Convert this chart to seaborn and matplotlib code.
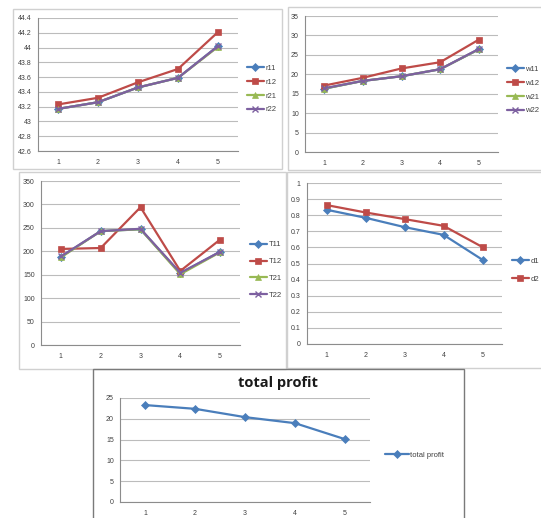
import matplotlib
matplotlib.use("Agg")
import matplotlib.pyplot as plt
from matplotlib.patches import Rectangle
from matplotlib.ticker import FuncFormatter, MultipleLocator, FixedLocator
import numpy as np
import pandas as pd
import seaborn as sns

# ---------------- data ----------------
periods = [1, 2, 3, 4, 5]

r11 = [43.17, 43.26, 43.46, 43.59, 44.02]
r12 = [43.23, 43.32, 43.53, 43.71, 44.21]
r21 = [43.17, 43.26, 43.46, 43.59, 44.01]
r22 = [43.17, 43.26, 43.46, 43.59, 44.02]

w11 = [16.3, 18.3, 19.5, 21.3, 26.4]
w12 = [17.1, 19.1, 21.5, 23.1, 28.9]
w21 = [16.3, 18.3, 19.5, 21.3, 26.4]
w22 = [16.4, 18.3, 19.5, 21.3, 26.5]

T11 = [188, 243, 247, 153, 199]
T12 = [205, 207, 294, 158, 225]
T21 = [187, 243, 247, 151, 198]
T22 = [189, 243, 248, 154, 199]

d1 = [0.834, 0.784, 0.726, 0.678, 0.523]
d2 = [0.863, 0.817, 0.776, 0.734, 0.602]

total_profit = [23.3, 22.4, 20.4, 18.95, 15.1]

# ---------------- style ----------------
sns.set_theme(style="white")
plt.rcParams["font.family"] = ["Liberation Sans", "DejaVu Sans"]

BLUE, RED, GREEN, PURPLE = "#4A7EBB", "#BE4B48", "#98B954", "#7D60A0"
GRID = "#bcbcbc"
AXC = "#8c8c8c"

W, H = 541, 518
fig = plt.figure(figsize=(W / 100, H / 100), dpi=100)
fig.patch.set_facecolor("white")


def rect(x0, y0, x1, y1):
    return [x0 / W, 1 - y1 / H, (x1 - x0) / W, (y1 - y0) / H]


def frame(x0, y0, x1, y1, ec="#d0d0d0", lw=1.0):
    fig.add_artist(Rectangle((x0 / W, 1 - y1 / H), (x1 - x0) / W, (y1 - y0) / H,
                             transform=fig.transFigure, fill=False, ec=ec, lw=lw))


def fmt(v, pos):
    return f"{round(v, 6):g}"


def panel(prect, names, values, colors, markers, ylim, ystep, leg_xy,
          leg_fs=5.5, spacing=0.95, hlen=2.2):
    ax = fig.add_axes(rect(*prect))
    df = pd.DataFrame({
        "x": np.tile(periods, len(names)),
        "value": np.concatenate([np.asarray(v, float) for v in values]),
        "series": np.repeat(names, len(periods)),
    })
    sns.lineplot(data=df, x="x", y="value", hue="series", style="series",
                 hue_order=names, style_order=names,
                 palette=dict(zip(names, colors)),
                 markers=dict(zip(names, ["o"] * len(names))), dashes=False,
                 lw=1.6, markersize=4.7, ax=ax, legend=False)
    lines = ax.lines[:len(names)]
    for ln, c, m in zip(lines, colors, markers):
        ln.set_marker(m)
        ln.set_markeredgecolor(c)
        ln.set_markerfacecolor(c)
        ln.set_markeredgewidth(1.0 if m == "x" else 0.5)
        if m == "D":
            ln.set_markersize(3.6)
    ax.set_xlim(0.5, 5.5)
    ax.set_ylim(*ylim)
    ax.set_xlabel("")
    ax.set_ylabel("")
    ax.xaxis.set_major_locator(FixedLocator(periods))
    ax.xaxis.set_minor_locator(FixedLocator([0.5, 1.5, 2.5, 3.5, 4.5, 5.5]))
    ax.yaxis.set_major_locator(MultipleLocator(ystep))
    ax.yaxis.set_major_formatter(FuncFormatter(fmt))
    ax.tick_params(axis="x", which="major", length=0, labelsize=5, pad=6,
                   labelcolor="#404040")
    ax.tick_params(axis="x", which="minor", length=2.5, width=0.7, color=AXC,
                   direction="out")
    ax.tick_params(axis="y", which="major", length=2.5, width=0.7, color=AXC,
                   labelsize=5, pad=2, labelcolor="#404040", direction="out")
    ax.yaxis.grid(True, color=GRID, lw=0.8)
    ax.xaxis.grid(False)
    ax.set_axisbelow(True)
    for s in ("top", "right"):
        ax.spines[s].set_visible(False)
    for s in ("left", "bottom"):
        ax.spines[s].set_color(AXC)
        ax.spines[s].set_linewidth(0.8)
    ax.set_facecolor("white")
    leg = ax.legend(handles=lines, labels=names, loc="center left",
                    bbox_to_anchor=(leg_xy[0] / W, 1 - leg_xy[1] / H),
                    bbox_transform=fig.transFigure, frameon=False,
                    fontsize=leg_fs, handlelength=hlen, handletextpad=0.2,
                    labelspacing=spacing, borderpad=0, borderaxespad=0)
    for t in leg.get_texts():
        t.set_color("#404040")
    return ax


# frames
frame(13, 9, 282, 169)
frame(288, 7, 545, 170)
frame(19, 172, 286, 369)
frame(287, 172, 545, 368)
frame(93, 369, 464, 522, ec="#7a7a7a", lw=1.0)

panel((38, 18, 238, 151), ["r11", "r12", "r21", "r22"], [r11, r12, r21, r22],
      [BLUE, RED, GREEN, PURPLE], ["D", "s", "^", "x"], (42.6, 44.4), 0.2,
      (247, 89), spacing=0.85)
panel((305, 16, 498, 152), ["w11", "w12", "w21", "w22"], [w11, w12, w21, w22],
      [BLUE, RED, GREEN, PURPLE], ["D", "s", "^", "x"], (0, 35), 5,
      (507, 90), spacing=0.85)
panel((41, 181, 240, 345), ["T11", "T12", "T21", "T22"], [T11, T12, T21, T22],
      [BLUE, RED, GREEN, PURPLE], ["D", "s", "^", "x"], (0, 350), 50,
      (250, 270), spacing=1.25)
panel((307, 183, 502, 344), ["d1", "d2"], [d1, d2],
      [BLUE, RED], ["D", "s"], (0, 1), 0.1,
      (512, 270), spacing=1.35)
panel((120, 398, 370, 502), ["total profit"], [total_profit],
      [BLUE], ["D"], (0, 25), 5,
      (385, 455), hlen=3.1)

fig.text(278 / W, 1 - 383 / H, "total profit", ha="center", va="center",
         fontsize=10.5, fontweight="bold", color="#1a1a1a",
         family=["Open Sans", "DejaVu Sans"])

fig.savefig("out.png", dpi=100, facecolor="white")
